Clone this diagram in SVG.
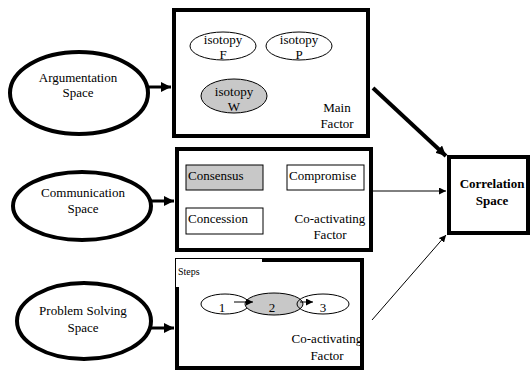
<svg xmlns="http://www.w3.org/2000/svg" width="531" height="372" viewBox="0 0 531 372">
<defs>
<style>
text{font-family:'Liberation Serif','DejaVu Serif',serif;font-size:13px;fill:#000}
.c{text-anchor:middle}
.big{fill:#fff;stroke:#000;stroke-width:4}
.box{fill:#fff;stroke:#000;stroke-width:4}
.thin{stroke:#000;stroke-width:1;fill:#fff}
.gray{fill:#c8c8c8}
.line{stroke:#000;fill:none}
</style>
<marker id="ah" viewBox="0 0 10 10" refX="10" refY="5" markerWidth="10" markerHeight="10" markerUnits="userSpaceOnUse" orient="auto"><path d="M0,0L10,5L0,10z" fill="#000"/></marker>
<marker id="ahs" viewBox="0 0 10 10" refX="10" refY="5" markerWidth="7" markerHeight="7" markerUnits="userSpaceOnUse" orient="auto"><path d="M0,0L10,5L0,10z" fill="#000"/></marker>
</defs>
<rect width="531" height="372" fill="#fff"/>
<g font-family="Liberation Serif, DejaVu Serif, serif" font-size="13">

<g id="argumentation">
<ellipse class="big" cx="79" cy="93" rx="69" ry="41"/>
<text class="c" x="78" y="82">Argumentation</text>
<text class="c" x="78" y="97">Space</text>
</g>

<g id="communication">
<ellipse class="big" cx="82" cy="206" rx="69" ry="34"/>
<text class="c" x="83" y="197">Communication</text>
<text class="c" x="83" y="213">Space</text>
</g>

<g id="problem-solving">
<ellipse class="big" cx="84" cy="321" rx="67" ry="38"/>
<text class="c" x="83" y="315">Problem Solving</text>
<text class="c" x="83" y="332">Space</text>
</g>

<g id="main-factor">
<rect class="box" x="174" y="10" width="194" height="126"/>
<ellipse class="thin" cx="223" cy="46" rx="33" ry="14"/>
<text class="c" x="223" y="44">isotopy</text>
<text class="c" x="223" y="59">F</text>
<ellipse class="thin" cx="299" cy="46" rx="33" ry="14"/>
<text class="c" x="299" y="44">isotopy</text>
<text class="c" x="299" y="59">P</text>
<ellipse class="thin gray" cx="234" cy="96" rx="33" ry="17"/>
<text class="c" x="234" y="96">isotopy</text>
<text class="c" x="234" y="111">W</text>
<text class="c" x="337" y="112">Main</text>
<text class="c" x="337" y="128">Factor</text>
</g>

<g id="communication-factor">
<rect class="box" x="177" y="149" width="194" height="101"/>
<rect class="thin gray" x="186" y="165" width="77" height="25"/>
<text x="188" y="180">Consensus</text>
<rect class="thin" x="287" y="165" width="77" height="25"/>
<text x="289" y="180">Compromise</text>
<rect class="thin" x="186" y="208" width="77" height="26"/>
<text x="188" y="223">Concession</text>
<text class="c" x="330" y="223">Co-activating</text>
<text class="c" x="330" y="239">Factor</text>
</g>

<g id="problem-factor">
<rect class="box" x="177" y="260" width="185" height="108"/>
<rect x="176" y="258" width="86" height="29" fill="#fff"/>
<path d="M175.5,287V258.5H262" class="line" stroke-width="1"/>
<text x="178" y="275" style="font-size:10px">Steps</text>
<ellipse class="thin" cx="225" cy="304" rx="24" ry="10"/>
<ellipse class="thin gray" cx="274" cy="304" rx="29" ry="11"/>
<ellipse class="line" stroke-width="1" cx="323" cy="304" rx="26" ry="10"/>
<text class="c" x="222" y="312">1</text>
<text class="c" x="272" y="312">2</text>
<text class="c" x="323" y="312">3</text>
<line class="line" stroke-width="1" x1="234" y1="302" x2="253" y2="302" marker-end="url(#ahs)"/>
<line class="line" stroke-width="1" x1="300" y1="302" x2="313" y2="302" marker-end="url(#ahs)"/>
<text class="c" x="327" y="343">Co-activating</text>
<text class="c" x="327" y="360">Factor</text>
</g>

<g id="correlation">
<rect class="box" x="449" y="157" width="79" height="76"/>
<text class="c" x="492" y="188" style="font-weight:bold">Correlation</text>
<text class="c" x="492" y="205" style="font-weight:bold">Space</text>
</g>

</g>
<g id="connectors">
<line class="line" stroke-width="3" x1="148" y1="87" x2="171" y2="87" marker-end="url(#ah)"/>
<line class="line" stroke-width="3" x1="151" y1="201" x2="174" y2="201" marker-end="url(#ah)"/>
<line class="line" stroke-width="3" x1="151" y1="328" x2="174" y2="328" marker-end="url(#ah)"/>
<line class="line" stroke-width="4" x1="373" y1="88" x2="446" y2="156" marker-end="url(#ah)"/>
<line class="line" stroke-width="1" x1="373" y1="191" x2="446" y2="191" marker-end="url(#ahs)"/>
<line class="line" stroke-width="1" x1="372" y1="320" x2="446" y2="235" marker-end="url(#ahs)"/>
</g>
</svg>
